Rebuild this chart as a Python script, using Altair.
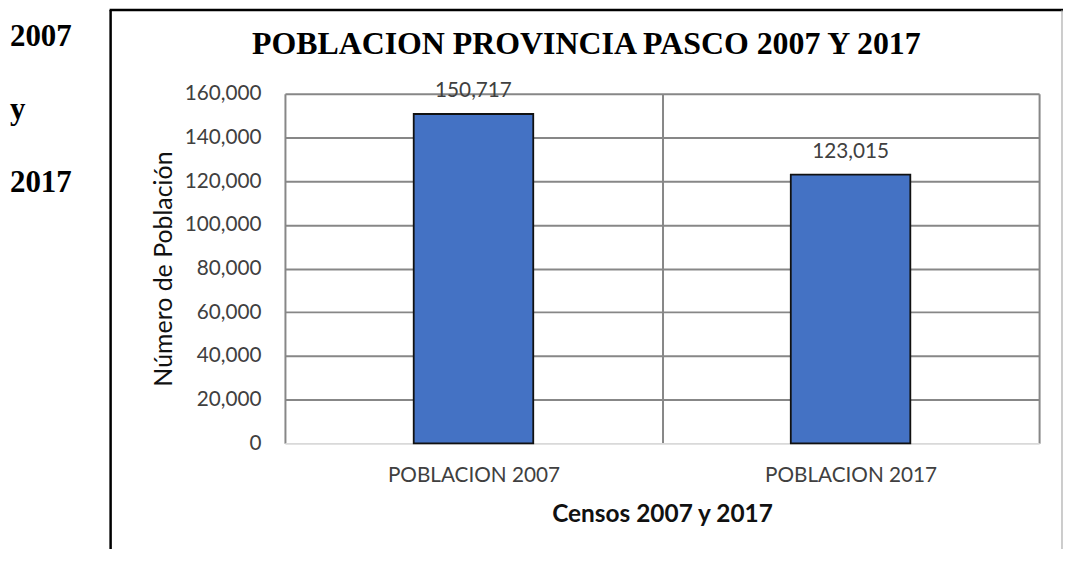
import altair as alt
import pandas as pd

categorias = ["POBLACION 2007", "POBLACION 2017"]
poblacion = [150717, 123015]
y_ticks = [0, 20000, 40000, 60000, 80000, 100000, 120000, 140000, 160000]
titulo = "POBLACION PROVINCIA PASCO 2007 Y 2017"
texto_izq = ["2007", "y", "2017"]
x_titulo = "Censos 2007 y 2017"
y_titulo = "Número de Población"

df = pd.DataFrame({"cat": categorias, "pob": poblacion})

SANS = "Lato"
SERIF = "Liberation Serif"
GRID = "#878787"
LBL = 20.8

x_enc = alt.X(
    "cat:N",
    sort=categorias,
    scale=alt.Scale(paddingInner=0, paddingOuter=0),
    axis=alt.Axis(
        title=x_titulo, labelAngle=0, grid=True, tickBand="extent",
        gridColor=GRID, gridWidth=2, domain=False, ticks=False,
        labelFont=SANS, labelFontSize=LBL, labelColor="#404040", labelPadding=22,
        titleFont=SANS, titleFontSize=24.5, titleFontWeight="bold", titleColor="#111",
        titlePadding=18,
    ),
)
y_enc = alt.Y(
    "pob:Q",
    scale=alt.Scale(domain=[0, 160000], nice=False),
    axis=alt.Axis(
        title=y_titulo, values=y_ticks, format=",d", grid=True,
        gridColor=alt.condition("datum.value === 0", alt.value("#d9d9d9"), alt.value(GRID)),
        gridWidth=2, domain=False, ticks=False,
        labelFont=SANS, labelFontSize=LBL, labelColor="#404040", labelPadding=24,
        titleFont=SANS, titleFontSize=25, titleFontWeight="normal", titleColor="#111",
        titlePadding=8,
    ),
)

bars = alt.Chart(df).mark_bar(
    color="#4472C4", stroke="#111", strokeWidth=1.8,
    width=alt.RelativeBandSize(0.317),
).encode(x=x_enc, y=y_enc)

labels = alt.Chart(df).mark_text(
    font=SANS, fontSize=LBL, color="#404040", baseline="alphabetic", dy=-17,
).encode(x=alt.X("cat:N", sort=categorias), y="pob:Q", text=alt.Text("pob:Q", format=",d"))

deco = alt.Data(values=[{}])

frame_left = alt.Chart(deco).mark_rule(color="#000", strokeWidth=2.5).encode(
    x=alt.value(-175), y=alt.value(-84), y2=alt.value(480))
frame_top = alt.Chart(deco).mark_rule(color="#000", strokeWidth=2.5).encode(
    x=alt.value(-176), x2=alt.value(781), y=alt.value(-84))
frame_right = alt.Chart(deco).mark_rule(color="#9a9a9a", strokeWidth=1).encode(
    x=alt.value(780), y=alt.value(-84), y2=alt.value(480))

title_txt = alt.Chart(deco).mark_text(
    text=titulo, font=SERIF, fontSize=32, fontWeight="bold", color="#000",
    align="center", baseline="alphabetic",
).encode(x=alt.value(302.5), y=alt.value(-40))

left_txt = alt.Chart(deco).mark_text(
    text=texto_izq, font=SERIF, fontSize=31, fontWeight="bold", color="#000",
    align="left", baseline="alphabetic", lineHeight=73.5,
).encode(x=alt.value(-276), y=alt.value(-48))

chart = alt.layer(
    frame_left, frame_top, frame_right, bars, labels, title_txt, left_txt
).properties(
    width=757, height=351,
    autosize=alt.AutoSizeParams(type="none"),
    padding={"left": 278, "top": 85, "right": 24, "bottom": 105},
    background="white",
).configure_view(stroke=None)

chart.save("out.html", embed_options={"renderer": "svg", "actions": False})
